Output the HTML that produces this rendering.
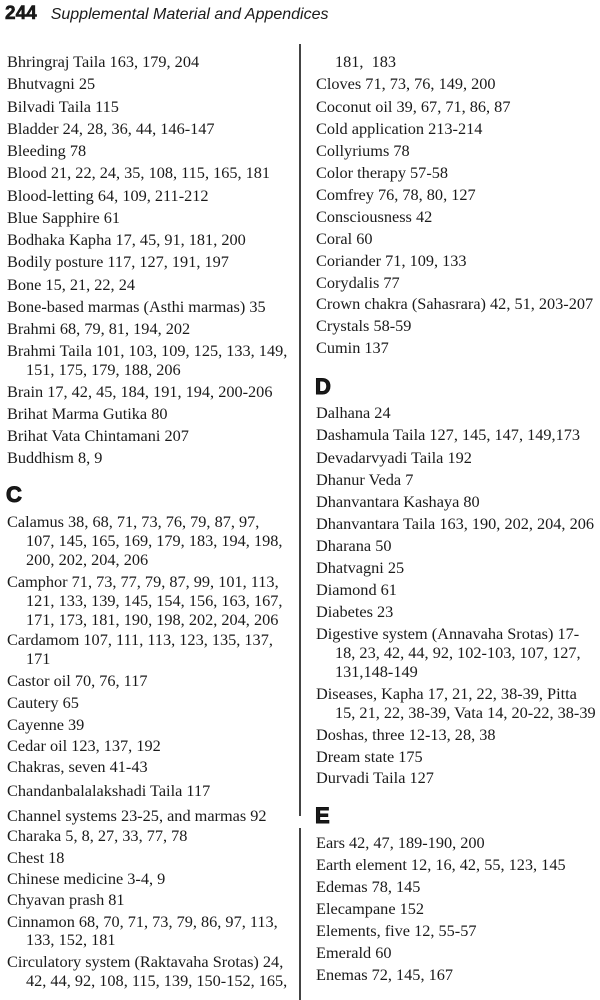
<!DOCTYPE html>
<html><head><meta charset="utf-8"><style>
html,body{margin:0;padding:0;background:#fff;}
body{width:600px;height:1000px;position:relative;overflow:hidden;color:#1a1a1a;}
.l{position:absolute;font-family:"Liberation Serif",serif;font-size:16.3px;line-height:20px;white-space:nowrap;}
.h{position:absolute;font-family:"Liberation Sans",sans-serif;font-weight:900;font-size:22px;line-height:24px;-webkit-text-stroke:1px #111;}
.hd{position:absolute;top:3px;left:5px;font-family:"Liberation Sans",sans-serif;font-size:16px;line-height:22px;white-space:nowrap;}
.div{position:absolute;left:299px;width:2px;background:#444;}
</style></head><body>
<div class="hd"><b style="font-size:19px;-webkit-text-stroke:0.6px #111">244</b><i style="margin-left:14px">Supplemental Material and Appendices</i></div>
<div class="div" style="top:44px;height:772px"></div>
<div class="div" style="top:828px;height:172px"></div>

<div class="l" style="left:7px;top:52px">Bhringraj Taila 163, 179, 204</div>
<div class="l" style="left:7px;top:74px">Bhutvagni 25</div>
<div class="l" style="left:7px;top:97px">Bilvadi Taila 115</div>
<div class="l" style="left:7px;top:119px">Bladder 24, 28, 36, 44, 146-147</div>
<div class="l" style="left:7px;top:141px">Bleeding 78</div>
<div class="l" style="left:7px;top:163px">Blood 21, 22, 24, 35, 108, 115, 165, 181</div>
<div class="l" style="left:7px;top:186px">Blood-letting 64, 109, 211-212</div>
<div class="l" style="left:7px;top:208px">Blue Sapphire 61</div>
<div class="l" style="left:7px;top:230px">Bodhaka Kapha 17, 45, 91, 181, 200</div>
<div class="l" style="left:7px;top:252px">Bodily posture 117, 127, 191, 197</div>
<div class="l" style="left:7px;top:275px">Bone 15, 21, 22, 24</div>
<div class="l" style="left:7px;top:297px">Bone-based marmas (Asthi marmas) 35</div>
<div class="l" style="left:7px;top:319px">Brahmi 68, 79, 81, 194, 202</div>
<div class="l" style="left:7px;top:341px">Brahmi Taila 101, 103, 109, 125, 133, 149,</div>
<div class="l" style="left:26px;top:360px">151, 175, 179, 188, 206</div>
<div class="l" style="left:7px;top:382px">Brain 17, 42, 45, 184, 191, 194, 200-206</div>
<div class="l" style="left:7px;top:404px">Brihat Marma Gutika 80</div>
<div class="l" style="left:7px;top:426px">Brihat Vata Chintamani 207</div>
<div class="l" style="left:7px;top:448px">Buddhism 8, 9</div>
<div class="h" style="left:6px;top:483px">C</div>
<div class="l" style="left:7px;top:512px">Calamus 38, 68, 71, 73, 76, 79, 87, 97,</div>
<div class="l" style="left:26px;top:531px">107, 145, 165, 169, 179, 183, 194, 198,</div>
<div class="l" style="left:26px;top:550px">200, 202, 204, 206</div>
<div class="l" style="left:7px;top:572px">Camphor 71, 73, 77, 79, 87, 99, 101, 113,</div>
<div class="l" style="left:26px;top:591px">121, 133, 139, 145, 154, 156, 163, 167,</div>
<div class="l" style="left:26px;top:610px">171, 173, 181, 190, 198, 202, 204, 206</div>
<div class="l" style="left:7px;top:630px">Cardamom 107, 111, 113, 123, 135, 137,</div>
<div class="l" style="left:26px;top:649px">171</div>
<div class="l" style="left:7px;top:671px">Castor oil 70, 76, 117</div>
<div class="l" style="left:7px;top:693px">Cautery 65</div>
<div class="l" style="left:7px;top:715px">Cayenne 39</div>
<div class="l" style="left:7px;top:736px">Cedar oil 123, 137, 192</div>
<div class="l" style="left:7px;top:757px">Chakras, seven 41-43</div>
<div class="l" style="left:7px;top:781px">Chandanbalalakshadi Taila 117</div>
<div class="l" style="left:7px;top:806px">Channel systems 23-25, and marmas 92</div>
<div class="l" style="left:7px;top:826px">Charaka 5, 8, 27, 33, 77, 78</div>
<div class="l" style="left:7px;top:848px">Chest 18</div>
<div class="l" style="left:7px;top:869px">Chinese medicine 3-4, 9</div>
<div class="l" style="left:7px;top:890px">Chyavan prash 81</div>
<div class="l" style="left:7px;top:912px">Cinnamon 68, 70, 71, 73, 79, 86, 97, 113,</div>
<div class="l" style="left:26px;top:930px">133, 152, 181</div>
<div class="l" style="left:7px;top:952px">Circulatory system (Raktavaha Srotas) 24,</div>
<div class="l" style="left:26px;top:971px">42, 44, 92, 108, 115, 139, 150-152, 165,</div>

<div class="l" style="left:335px;top:52px">181,&nbsp; 183</div>
<div class="l" style="left:316px;top:74px">Cloves 71, 73, 76, 149, 200</div>
<div class="l" style="left:316px;top:97px">Coconut oil 39, 67, 71, 86, 87</div>
<div class="l" style="left:316px;top:119px">Cold application 213-214</div>
<div class="l" style="left:316px;top:141px">Collyriums 78</div>
<div class="l" style="left:316px;top:163px">Color therapy 57-58</div>
<div class="l" style="left:316px;top:185px">Comfrey 76, 78, 80, 127</div>
<div class="l" style="left:316px;top:207px">Consciousness 42</div>
<div class="l" style="left:316px;top:229px">Coral 60</div>
<div class="l" style="left:316px;top:251px">Coriander 71, 109, 133</div>
<div class="l" style="left:316px;top:273px">Corydalis 77</div>
<div class="l" style="left:316px;top:294px">Crown chakra (Sahasrara) 42, 51, 203-207</div>
<div class="l" style="left:316px;top:316px">Crystals 58-59</div>
<div class="l" style="left:316px;top:338px">Cumin 137</div>
<div class="h" style="left:315px;top:375px">D</div>
<div class="l" style="left:316px;top:403px">Dalhana 24</div>
<div class="l" style="left:316px;top:425px">Dashamula Taila 127, 145, 147, 149,173</div>
<div class="l" style="left:316px;top:448px">Devadarvyadi Taila 192</div>
<div class="l" style="left:316px;top:470px">Dhanur Veda 7</div>
<div class="l" style="left:316px;top:492px">Dhanvantara Kashaya 80</div>
<div class="l" style="left:316px;top:514px">Dhanvantara Taila 163, 190, 202, 204, 206</div>
<div class="l" style="left:316px;top:536px">Dharana 50</div>
<div class="l" style="left:316px;top:558px">Dhatvagni 25</div>
<div class="l" style="left:316px;top:580px">Diamond 61</div>
<div class="l" style="left:316px;top:602px">Diabetes 23</div>
<div class="l" style="left:316px;top:624px">Digestive system (Annavaha Srotas) 17-</div>
<div class="l" style="left:335px;top:643px">18, 23, 42, 44, 92, 102-103, 107, 127,</div>
<div class="l" style="left:335px;top:662px">131,148-149</div>
<div class="l" style="left:316px;top:684px">Diseases, Kapha 17, 21, 22, 38-39, Pitta</div>
<div class="l" style="left:335px;top:703px">15, 21, 22, 38-39, Vata 14, 20-22, 38-39</div>
<div class="l" style="left:316px;top:725px">Doshas, three 12-13, 28, 38</div>
<div class="l" style="left:316px;top:747px">Dream state 175</div>
<div class="l" style="left:316px;top:768px">Durvadi Taila 127</div>
<div class="h" style="left:315px;top:804px">E</div>
<div class="l" style="left:316px;top:833px">Ears 42, 47, 189-190, 200</div>
<div class="l" style="left:316px;top:855px">Earth element 12, 16, 42, 55, 123, 145</div>
<div class="l" style="left:316px;top:877px">Edemas 78, 145</div>
<div class="l" style="left:316px;top:899px">Elecampane 152</div>
<div class="l" style="left:316px;top:921px">Elements, five 12, 55-57</div>
<div class="l" style="left:316px;top:943px">Emerald 60</div>
<div class="l" style="left:316px;top:965px">Enemas 72, 145, 167</div>
</body></html>
